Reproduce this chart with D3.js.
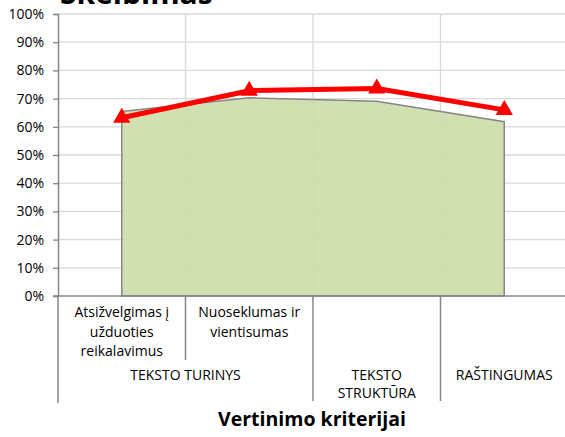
<!DOCTYPE html>
<meta charset="utf-8">
<style>
  body { margin: 0; background: #fff; }
  text { font-family: "Open Sans", sans-serif; fill: #000; }
</style>
<script src="https://d3js.org/d3.v7.min.js"></script>
<svg width="565" height="437"></svg>
<script>
const subLabels = ['Atsižvelgimas į\nužduoties\nreikalavimus', 'Nuoseklumas ir\nvientisumas', '', ''];
const groupLabels = ['TEKSTO TURINYS', 'TEKSTO TURINYS', 'TEKSTO\nSTRUKTŪRA', 'RAŠTINGUMAS'];
const areaValues = [0.654, 0.703, 0.691, 0.618];
const lineValues = [0.632, 0.728, 0.736, 0.66];
const yTicks = [0, 0.1, 0.2, 0.3, 0.4, 0.5, 0.6, 0.7, 0.8, 0.9, 1];

const svg = d3.select('svg');
const plotL = 58, plotR = 568, plotT = 14, plotB = 296;
const fs = 14;

const x = d3.scaleBand().domain(d3.range(subLabels.length)).range([plotL, plotR]);
const y = d3.scaleLinear().domain([0, 1]).range([plotB, plotT]);
const cx = i => x(i) + x.bandwidth() / 2;
const axisColor = '#868686';

// title, cut off at the top
svg.append('text')
  .attr('x', 60).attr('y', 4)
  .attr('font-size', 30).attr('font-weight', 'bold')
  .text('Skelbimas');

// horizontal gridlines
svg.append('g').selectAll('line')
  .data(yTicks.slice(1))
  .enter().append('line')
  .attr('x1', plotL).attr('x2', plotR)
  .attr('y1', d => y(d)).attr('y2', d => y(d))
  .attr('stroke', '#d9d9d9').attr('stroke-width', 1.3);

// vertical gridlines on category borders
svg.append('g').selectAll('line')
  .data(d3.range(1, subLabels.length))
  .enter().append('line')
  .attr('x1', d => x(d)).attr('x2', d => x(d))
  .attr('y1', plotT).attr('y2', plotB)
  .attr('stroke', '#d9d9d9').attr('stroke-width', 1.3);

// area series
const area = d3.area()
  .x((d, i) => cx(i))
  .y0(y(0))
  .y1(d => y(d));
svg.append('path')
  .attr('d', area(areaValues))
  .attr('fill', '#cddda9')
  .attr('fill-opacity', 0.92)
  .attr('stroke', '#868686')
  .attr('stroke-width', 1.5);

// y axis
const yAxis = d3.axisLeft(y).tickValues(yTicks).tickFormat(d3.format('.0%')).tickSize(5).tickPadding(9);
const ya = svg.append('g').attr('transform', `translate(${plotL},0)`).call(yAxis);
ya.select('.domain').attr('stroke', axisColor).attr('stroke-width', 1.5);
ya.selectAll('.tick line').attr('stroke', axisColor).attr('stroke-width', 1.3);
ya.selectAll('.tick text').attr('font-family', 'Open Sans').attr('font-size', fs).attr('fill', '#000');

// x axis baseline
svg.append('line')
  .attr('x1', plotL - 5).attr('x2', plotR)
  .attr('y1', plotB).attr('y2', plotB)
  .attr('stroke', axisColor).attr('stroke-width', 1.5);

// multi-level category axis
const groups = [];
groupLabels.forEach((g, i) => {
  const last = groups[groups.length - 1];
  if (last && last.name === g) last.end = i;
  else groups.push({ name: g, start: i, end: i });
});

const edge = d => (d < subLabels.length ? x(d) : plotR);
const groupBorders = [0].concat(groups.map(g => g.end + 1));
svg.append('g').selectAll('line')
  .data(groupBorders)
  .enter().append('line')
  .attr('x1', edge).attr('x2', edge)
  .attr('y1', plotB).attr('y2', (d, i) => i === 0 ? 403 : 401)
  .attr('stroke', axisColor).attr('stroke-width', 1.5);

const subBorders = d3.range(1, subLabels.length).filter(i => groupLabels[i] === groupLabels[i - 1]);
svg.append('g').selectAll('line')
  .data(subBorders)
  .enter().append('line')
  .attr('x1', d => x(d)).attr('x2', d => x(d))
  .attr('y1', plotB).attr('y2', 360)
  .attr('stroke', axisColor).attr('stroke-width', 1.5);

function multiline(g, str, px, py, lh) {
  const t = g.append('text').attr('text-anchor', 'middle').attr('font-size', fs);
  str.split('\n').forEach((s, k) => {
    t.append('tspan').attr('x', px).attr('y', py + k * lh).text(s);
  });
}

const lab = svg.append('g');
subLabels.forEach((s, i) => { if (s) multiline(lab, s, cx(i), 317, 19.5); });
groups.forEach(g => {
  const mid = (x(g.start) + x(g.end) + x.bandwidth()) / 2;
  multiline(lab, g.name, mid, 380, 18);
});

// axis title
svg.append('text')
  .attr('x', 312).attr('y', 426)
  .attr('text-anchor', 'middle')
  .attr('font-size', 19.5).attr('font-weight', 'bold')
  .text('Vertinimo kriterijai');

// line series
const line = d3.line().x((d, i) => cx(i)).y(d => y(d));
svg.append('path')
  .attr('d', line(lineValues))
  .attr('fill', 'none')
  .attr('stroke', '#ff0000')
  .attr('stroke-width', 5)
  .attr('stroke-linejoin', 'round');

const tri = d3.symbol().type(d3.symbolTriangle).size(130);
svg.append('g').selectAll('path')
  .data(lineValues)
  .enter().append('path')
  .attr('d', tri)
  .attr('transform', (d, i) => `translate(${cx(i)},${y(d)})`)
  .attr('fill', '#ff0000');
</script>
